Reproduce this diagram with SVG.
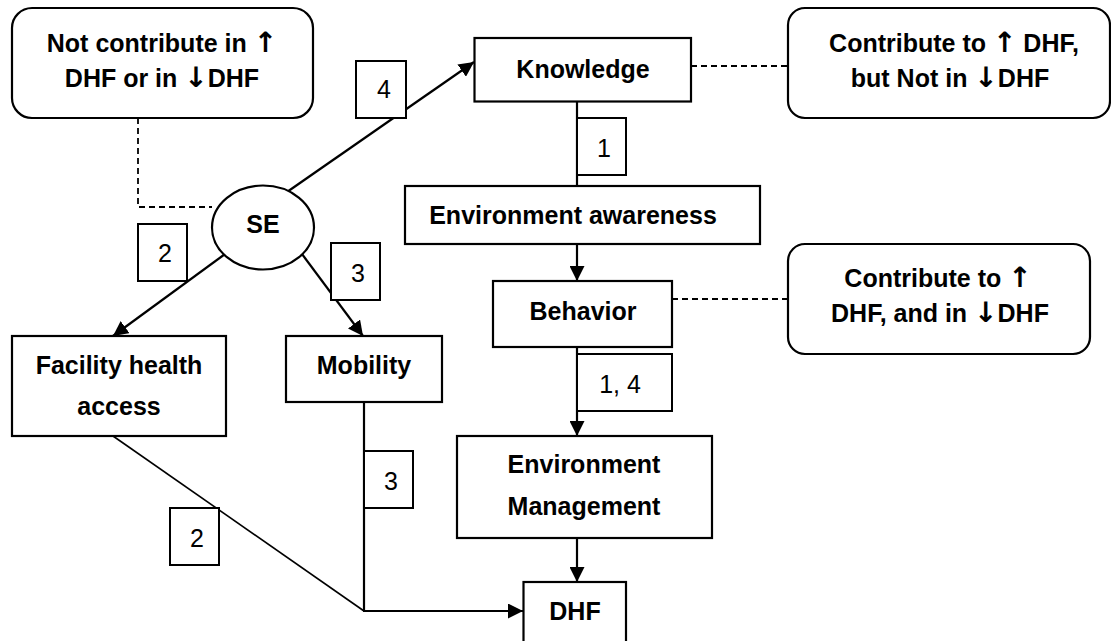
<svg xmlns="http://www.w3.org/2000/svg" width="1111" height="641" viewBox="0 0 1111 641">
<style>
.box{fill:#fff;stroke:#000;stroke-width:2.2}
.lbl{fill:#fff;stroke:#000;stroke-width:2}
.t{font-family:"Liberation Sans","DejaVu Sans",Arial,sans-serif;font-weight:bold;font-size:25px;text-anchor:middle;fill:#000}
.n{font-family:"Liberation Sans","DejaVu Sans",Arial,sans-serif;font-size:25px;text-anchor:middle;fill:#000}
.a{font-family:"DejaVu Sans",sans-serif;font-weight:bold;font-size:28px;fill:#000}
.c{fill:none;stroke:#000;stroke-width:2.2}
.thin{fill:none;stroke:#000;stroke-width:1.6}
.d{fill:none;stroke:#000;stroke-width:1.8;stroke-dasharray:6,4}
</style>
<defs>
<marker id="arr" markerUnits="userSpaceOnUse" markerWidth="16" markerHeight="15" refX="15" refY="7.5" orient="auto">
<path d="M0,0 L15,7.5 L0,15 z" fill="#000"/>
</marker>
</defs>
<rect width="1111" height="641" fill="#fff"/>
<g id="connectors">
<line class="c" x1="287" y1="192" x2="474" y2="62" marker-end="url(#arr)"/>
<line class="c" x1="577" y1="102" x2="577" y2="186"/>
<line class="c" x1="577" y1="244" x2="577" y2="281" marker-end="url(#arr)"/>
<line class="c" x1="577" y1="347" x2="577" y2="436" marker-end="url(#arr)"/>
<line class="c" x1="577" y1="538" x2="577" y2="582" marker-end="url(#arr)"/>
<line class="c" x1="225" y1="254" x2="113" y2="336" marker-end="url(#arr)"/>
<line class="c" x1="302" y1="254" x2="363" y2="336" marker-end="url(#arr)"/>
<line class="c" x1="364" y1="402" x2="364" y2="611"/>
<line class="thin" x1="113" y1="436" x2="364" y2="611"/>
<line class="c" x1="363" y1="611" x2="523" y2="611" marker-end="url(#arr)"/>
<polyline class="d" points="138,118 138,207 212,207"/>
<line class="d" x1="691" y1="66" x2="788" y2="66"/>
<line class="d" x1="672" y1="299" x2="788" y2="299"/>
<rect class="lbl" x="356" y="61" width="50" height="57"/>
<text class="n" x="384" y="98">4</text>
<rect class="lbl" x="577" y="118" width="49" height="57"/>
<text class="n" x="604" y="157">1</text>
<rect class="lbl" x="138" y="224" width="49" height="57"/>
<text class="n" x="165" y="262">2</text>
<rect class="lbl" x="331" y="243" width="49" height="57"/>
<text class="n" x="358" y="282">3</text>
<rect class="lbl" x="577" y="354" width="95" height="57"/>
<text class="n" x="620" y="393">1, 4</text>
<rect class="lbl" x="364" y="451" width="49" height="57"/>
<text class="n" x="391" y="490">3</text>
<rect class="lbl" x="170" y="508" width="49" height="57"/>
<text class="n" x="197" y="547">2</text>
</g>
<g id="note-none">
<rect class="box" x="12" y="8" width="301" height="110" rx="20"/>
<text class="t" x="162" y="52">Not contribute in <tspan class="a">↑</tspan></text>
<text class="t" x="162" y="87">DHF or in <tspan class="a">↓</tspan>DHF</text>
</g>
<g id="note-up">
<rect class="box" x="788" y="8" width="322" height="110" rx="17"/>
<text class="t" x="954" y="52">Contribute to <tspan class="a">↑</tspan> DHF,</text>
<text class="t" x="950" y="87">but Not in <tspan class="a">↓</tspan>DHF</text>
</g>
<g id="note-both">
<rect class="box" x="788" y="244" width="302" height="110" rx="17"/>
<text class="t" x="938" y="287">Contribute to <tspan class="a">↑</tspan></text>
<text class="t" x="940" y="322">DHF, and in <tspan class="a">↓</tspan>DHF</text>
</g>
<g id="se">
<ellipse class="box" cx="263" cy="227.5" rx="51" ry="42"/>
<text class="t" x="263" y="233">SE</text>
</g>
<g id="knowledge">
<rect class="box" x="474.5" y="38" width="216.5" height="63.5"/>
<text class="t" x="583" y="78">Knowledge</text>
</g>
<g id="awareness">
<rect class="box" x="405" y="186" width="355" height="58"/>
<text class="t" x="573" y="224">Environment awareness</text>
</g>
<g id="behavior">
<rect class="box" x="493" y="281" width="179" height="66"/>
<text class="t" x="583" y="320">Behavior</text>
</g>
<g id="management">
<rect class="box" x="457" y="436" width="255" height="102"/>
<text class="t" x="584" y="473">Environment</text>
<text class="t" x="584" y="515">Management</text>
</g>
<g id="dhf">
<rect class="box" x="523.5" y="582" width="102.5" height="64"/>
<text class="t" x="575" y="620">DHF</text>
</g>
<g id="facility">
<rect class="box" x="12" y="336" width="214" height="100"/>
<text class="t" x="119" y="374">Facility health</text>
<text class="t" x="119" y="415">access</text>
</g>
<g id="mobility">
<rect class="box" x="286" y="336" width="156" height="66"/>
<text class="t" x="364" y="374">Mobility</text>
</g>
</svg>
